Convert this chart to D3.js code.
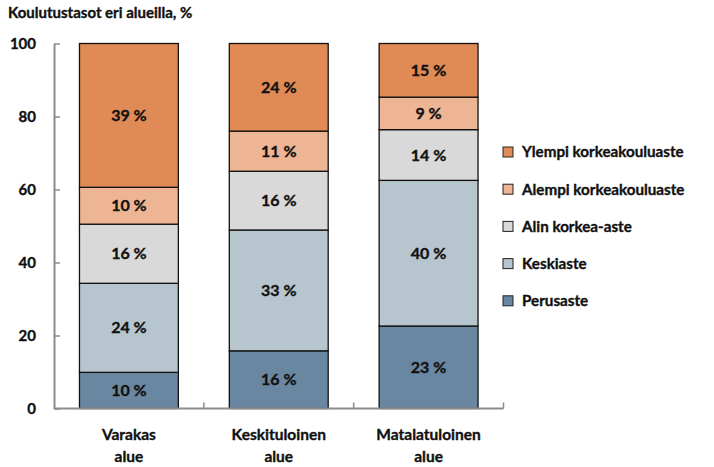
<!DOCTYPE html>
<html>
<head>
<meta charset="utf-8">
<script src="https://cdn.jsdelivr.net/npm/d3@7"></script>
<style>
  body { margin: 0; background: #fff; }
  svg { display: block; font-family: Lato, "Open Sans", sans-serif; font-weight: bold; }
  svg text { stroke: #111; stroke-width: 0.35px; }
</style>
</head>
<body>
<script>
// Data
const categories = [["Varakas", "alue"], ["Keskituloinen", "alue"], ["Matalatuloinen", "alue"]];
const seriesNames = ["Perusaste", "Keskiaste", "Alin korkea-aste", "Alempi korkeakouluaste", "Ylempi korkeakouluaste"];
const seriesColors = ["#6a87a2", "#b7c5cf", "#d9d9d9", "#eeb594", "#e08a55"];
const perusaste = [9.9, 15.8, 22.6];
const keskiaste = [24.4, 33.1, 39.9];
const alinKorkea = [16.2, 16.1, 13.9];
const alempiKorkea = [10.1, 11.0, 8.9];
const ylempiKorkea = [39.4, 24.0, 14.7];
const segLabels = [
    ["10 %", "16 %", "23 %"],
    ["24 %", "33 %", "40 %"],
    ["16 %", "16 %", "14 %"],
    ["10 %", "11 %", "9 %"],
    ["39 %", "24 %", "15 %"]
];
const yTicks = [0, 20, 40, 60, 80, 100];
const title = "Koulutustasot eri alueilla, %";

const seriesValues = [perusaste, keskiaste, alinKorkea, alempiKorkea, ylempiKorkea];

var width = 714, height = 467;
var margin = { top: 43.5, left: 54, bottom: 467 - 408.5, right: 714 - 503.5 };
var innerW = width - margin.left - margin.right,
    innerH = height - margin.top - margin.bottom;

var svg = d3.select("body").append("svg")
    .attr("width", width)
    .attr("height", height);

// Title
svg.append("text")
    .attr("x", 8)
    .attr("y", 18)
    .style("font-size", "15px")
    .attr("fill", "#111")
    .text(title);

var g = svg.append("g")
    .attr("transform", "translate(" + margin.left + "," + margin.top + ")");

var x = d3.scaleBand()
    .domain(d3.range(categories.length))
    .range([0, innerW])
    .paddingInner(0.34)
    .paddingOuter(0.17);

var y = d3.scaleLinear()
    .domain([0, 100])
    .range([innerH, 0]);

// Stack the series
var rows = categories.map((c, i) => {
    let r = { idx: i };
    seriesNames.forEach((s, k) => r[s] = seriesValues[k][i]);
    return r;
});
var stacked = d3.stack().keys(seriesNames)(rows);

var layers = g.selectAll(".layer")
    .data(stacked)
    .enter().append("g")
    .attr("class", "layer")
    .attr("fill", (d, k) => seriesColors[k]);

layers.selectAll("rect")
    .data(d => d)
    .enter().append("rect")
    .attr("x", d => x(d.data.idx))
    .attr("width", x.bandwidth())
    .attr("y", d => y(d[1]))
    .attr("height", d => y(d[0]) - y(d[1]))
    .attr("stroke", "#111")
    .attr("stroke-width", 1.3);

// Segment labels
stacked.forEach((layer, k) => {
    g.selectAll(".lbl" + k)
        .data(layer)
        .enter().append("text")
        .attr("x", d => x(d.data.idx) + x.bandwidth() / 2)
        .attr("y", d => y((d[0] + d[1]) / 2))
        .attr("dy", "0.35em")
        .attr("text-anchor", "middle")
        .style("font-size", "16px")
        .attr("fill", "#111")
        .text((d, i) => segLabels[k][i]);
});

// Y axis
var yAxis = g.append("g")
    .call(d3.axisLeft(y).tickValues(yTicks).tickSizeInner(-6).tickSizeOuter(0).tickPadding(18));
yAxis.select(".domain").attr("stroke", "#8c8c8c").attr("stroke-width", 2);
yAxis.selectAll(".tick line").attr("stroke", "#8c8c8c").attr("stroke-width", 1.5);
yAxis.selectAll(".tick text")
    .style("font-size", "15px")
    .style("font-family", "Lato, sans-serif")
    .style("font-weight", "bold")
    .attr("fill", "#111");

// X axis (category boundaries as ticks)
var xAxisG = g.append("g").attr("transform", "translate(0," + innerH + ")");
xAxisG.append("line")
    .attr("x1", 0).attr("x2", innerW)
    .attr("stroke", "#8c8c8c").attr("stroke-width", 2);
var step = x.step();
xAxisG.selectAll(".xtick")
    .data(d3.range(1, categories.length + 1))
    .enter().append("line")
    .attr("x1", d => x(0) - x.paddingOuter() * step + d * step)
    .attr("x2", d => x(0) - x.paddingOuter() * step + d * step)
    .attr("y1", 0).attr("y2", -6)
    .attr("stroke", "#8c8c8c").attr("stroke-width", 1.5);

// Category labels
var catText = xAxisG.selectAll(".cat")
    .data(categories)
    .enter().append("text")
    .attr("text-anchor", "middle")
    .attr("x", (d, i) => x(i) + x.bandwidth() / 2)
    .attr("y", 31)
    .style("font-size", "15.5px")
    .attr("fill", "#111");
catText.selectAll("tspan")
    .data(d => d)
    .enter().append("tspan")
    .attr("x", function () { return d3.select(this.parentNode).attr("x"); })
    .attr("dy", (d, i) => i === 0 ? 0 : 22)
    .text(d => d);

// Legend (top series first)
var legendOrder = d3.range(seriesNames.length).reverse();
var legend = svg.append("g").attr("transform", "translate(503,152)");
var li = legend.selectAll(".li")
    .data(legendOrder)
    .enter().append("g")
    .attr("transform", (d, i) => "translate(0," + i * 37.2 + ")");
li.append("rect")
    .attr("x", 0).attr("y", -5)
    .attr("width", 10).attr("height", 10)
    .attr("fill", d => seriesColors[d])
    .attr("stroke", "#222").attr("stroke-width", 1);
li.append("text")
    .attr("x", 19)
    .attr("dy", "0.35em")
    .style("font-size", "15.2px")
    .attr("fill", "#111")
    .text(d => seriesNames[d]);
</script>
</body>
</html>
